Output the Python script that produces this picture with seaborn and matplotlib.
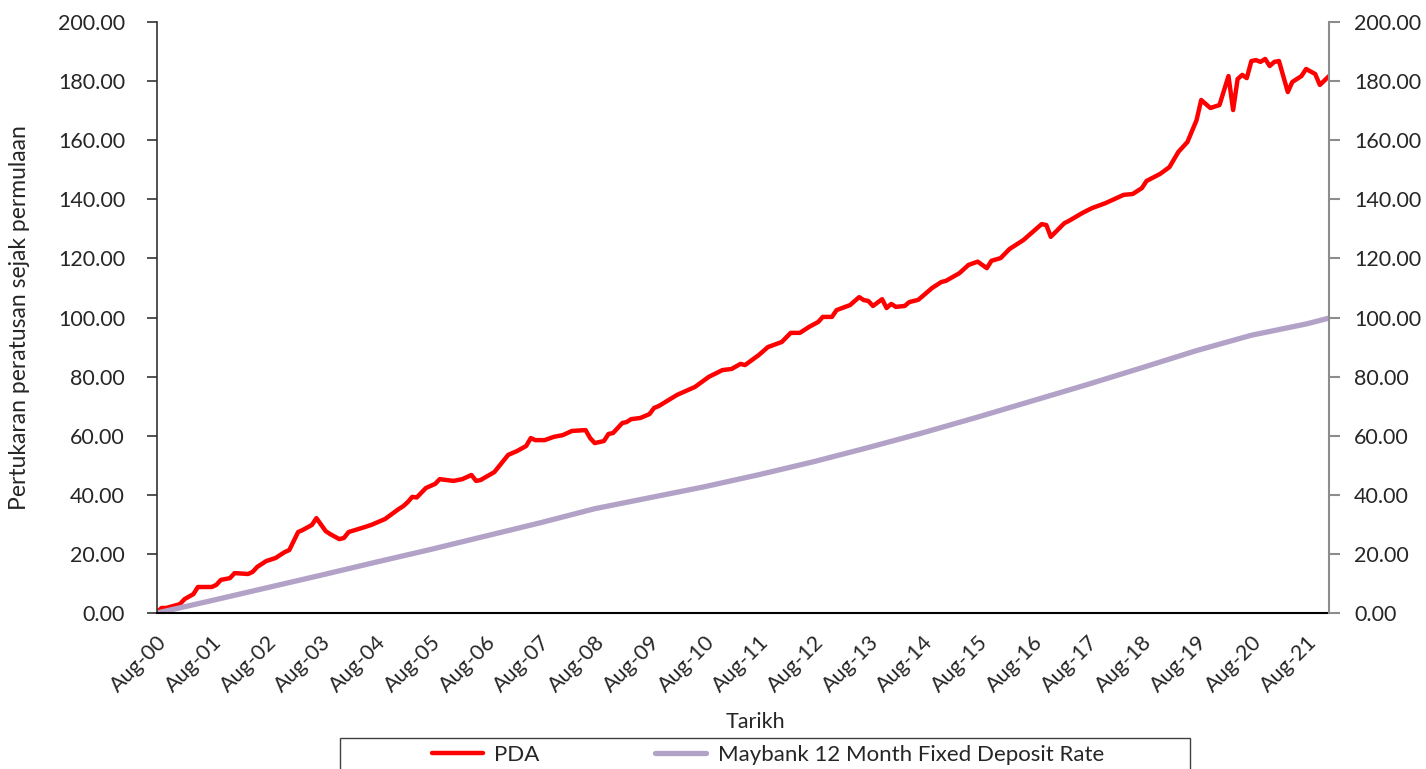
import matplotlib
matplotlib.use("Agg")
import matplotlib.pyplot as plt
import matplotlib.dates as mdates
from matplotlib.patches import Rectangle
from matplotlib.ticker import FormatStrFormatter
import pandas as pd
import seaborn as sns


# -----------------------------
# Data (months counted from Aug-2000)
# -----------------------------
start = pd.Timestamp("2000-08-01")

pda_month = [0, 1, 2, 5, 6, 8, 9, 11, 12, 13, 14, 16, 17, 20, 21, 22, 24, 26, 28, 29,
             31, 32, 34, 35, 37, 38, 40, 41, 42, 45, 47, 50, 53, 54, 55, 56, 57, 59, 61, 62,
             65, 67, 69, 70, 71, 74, 77, 79, 81, 82, 83, 85, 87, 89, 91, 94, 95, 96, 98, 99,
             100, 102, 103, 104, 106, 108, 109, 110, 114, 118, 121, 124, 126, 128, 129, 132,
             134, 137, 139, 141, 143, 145, 146, 148, 149, 152, 154, 155, 156, 157, 159, 160,
             161, 162, 164, 165, 167, 170, 172, 173, 176, 178, 180, 182, 183, 185, 187, 190,
             193, 194, 195, 196, 199, 200, 203, 205, 208, 212, 214, 216, 217, 220, 222, 224,
             226, 228, 229, 231, 233, 235, 236, 237, 238, 239, 240, 241, 242, 243, 244, 245,
             246, 248, 249, 251, 252, 254, 255, 257]
pda_value = [0.3, 1.7, 1.7, 3.0, 4.7, 6.4, 8.8, 8.8, 8.8, 9.5, 11.2, 11.8, 13.5, 13.2, 13.9, 15.6, 17.6, 18.6, 20.6, 21.3,
             27.4, 28.1, 29.8, 32.1, 27.7, 26.7, 25.0, 25.4, 27.4, 28.8, 29.8, 31.8, 35.2, 36.2, 37.5, 39.3, 39.1, 42.3, 43.7, 45.3,
             44.7, 45.3, 46.7, 44.7, 45.0, 47.7, 53.5, 54.8, 56.5, 59.2, 58.5, 58.5, 59.6, 60.2, 61.6, 61.9, 59.2, 57.5, 58.2, 60.6,
             60.9, 64.3, 64.6, 65.6, 66.0, 67.3, 69.4, 70.0, 73.8, 76.5, 79.9, 82.2, 82.6, 84.3, 83.9, 87.3,
             90.0, 91.7, 94.8, 94.8, 96.8, 98.5, 100.2, 100.2, 102.5, 104.2, 106.9, 105.9, 105.6, 103.9, 106.2, 103.2,
             104.6, 103.6, 103.9, 105.2, 106.0, 110.0, 112.0, 112.4, 115.0, 117.8, 118.9, 116.7, 119.2, 120.1, 123.2, 126.2,
             130.3, 131.6, 131.3, 127.3, 131.9, 132.7, 135.4, 137.0, 138.7, 141.5, 141.8, 143.8, 146.2, 148.6, 150.9, 156.0,
             159.4, 166.8, 173.6, 170.9, 171.9, 181.7, 170.2, 180.7, 182.1, 181.0, 186.8, 187.1, 186.5, 187.5, 185.1, 186.5,
             186.8, 176.3, 179.7, 181.7, 184.1, 182.4, 178.7, 181.7]

deposit_month = [0, 12, 24, 36, 48, 60, 72, 84, 96, 108, 120, 132, 144, 156, 168, 180,
                 192, 204, 216, 228, 240, 252, 257]
deposit_value = [0.0, 4.2, 8.5, 12.8, 17.2, 21.5, 26.0, 30.5, 35.3, 39.0, 42.7, 46.8, 51.2, 56.0, 61.0, 66.3,
                 71.8, 77.3, 83.0, 88.8, 94.0, 97.8, 99.8]

y_ticks = [0, 20, 40, 60, 80, 100, 120, 140, 160, 180, 200]


def to_dates(months):
    return [start + pd.DateOffset(months=m) for m in months]


pda_df = pd.DataFrame({"Tarikh": to_dates(pda_month), "value": pda_value})
dep_df = pd.DataFrame({"Tarikh": to_dates(deposit_month), "value": deposit_value})

# -----------------------------
# Style
# -----------------------------
sns.set_style("white")
plt.rcParams["font.family"] = ["Lato", "DejaVu Sans"]
FS = 15.5

fig = plt.figure(figsize=(14.26, 7.69), dpi=100)
ax = fig.add_axes([157 / 1426, 1 - 613 / 769, (1329 - 157) / 1426, (613 - 22) / 769])

sns.lineplot(data=pda_df, x="Tarikh", y="value", color="#FF0000", linewidth=3.2,
             label="PDA", ax=ax)
sns.lineplot(data=dep_df, x="Tarikh", y="value", color="#B3A2C7", linewidth=3.8,
             label="Maybank 12 Month Fixed Deposit Rate", ax=ax)

handles, labels = ax.get_legend_handles_labels()
ax.get_legend().remove()

# x axis - one tick every August
ax.set_xlim(start, start + pd.DateOffset(months=257))
ax.xaxis.set_major_locator(mdates.MonthLocator(bymonth=8))
ax.xaxis.set_major_formatter(mdates.DateFormatter("%b-%y"))
plt.setp(ax.get_xticklabels(), rotation=45, ha="right", va="top", rotation_mode="anchor")
ax.tick_params(axis="x", length=0, pad=14, labelsize=FS)
ax.set_xlabel("")

# left y axis
ax.set_ylim(0, 200)
ax.set_yticks(y_ticks)
ax.yaxis.set_major_formatter(FormatStrFormatter("%.2f"))
ax.tick_params(axis="y", left=True, direction="out", length=7, width=1.2,
               color="#333333", pad=16, labelsize=FS)
ax.set_ylabel("Pertukaran peratusan sejak permulaan", fontsize=16.5, labelpad=20)

for side in ["top", "right"]:
    ax.spines[side].set_visible(False)
ax.spines["left"].set_color("#333333")
ax.spines["bottom"].set_color("#000000")
ax.spines["left"].set_linewidth(1.2)
ax.spines["bottom"].set_linewidth(1.5)

# right y axis (grey)
ax2 = ax.twinx()
ax2.set_ylim(0, 200)
ax2.set_yticks(y_ticks)
ax2.yaxis.set_major_formatter(FormatStrFormatter("%.2f"))
ax2.tick_params(axis="y", right=True, direction="out", length=8, width=1.5,
                color="#8C8C8C", pad=10, labelsize=FS)
for side in ["top", "left", "bottom"]:
    ax2.spines[side].set_visible(False)
ax2.spines["right"].set_color("#8C8C8C")
ax2.spines["right"].set_linewidth(1.5)

fig.text(755 / 1426, 1 - 722 / 769, "Tarikh", ha="center", va="center", fontsize=FS)

# -----------------------------
# Legend with box cut at bottom
# -----------------------------
fig.legend(handles, labels, loc="center", bbox_to_anchor=(768 / 1426, 1 - 755 / 769),
           ncol=2, frameon=False, fontsize=16, handlelength=2.3, handletextpad=0.5,
           columnspacing=5.2)
fig.add_artist(Rectangle((340 / 1426, -0.05), (1190 - 340) / 1426, 0.05 + 31 / 769,
                         transform=fig.transFigure, fill=False, edgecolor="#404040",
                         linewidth=1.0))

fig.savefig("out.png", dpi=100)
